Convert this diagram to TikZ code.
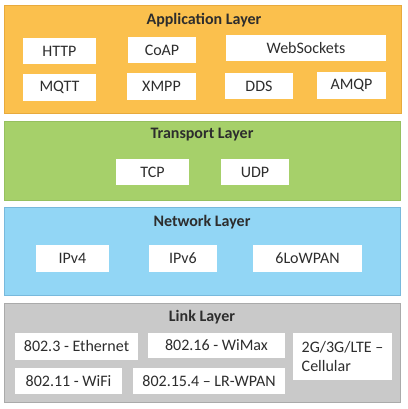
\documentclass[tikz,border=0pt]{standalone}
\usepackage{fontspec}
\setmainfont{Carlito}
\definecolor{appfill}{RGB}{251,192,77}
\definecolor{appdraw}{RGB}{232,170,60}
\definecolor{trfill}{RGB}{166,208,106}
\definecolor{trdraw}{RGB}{150,192,95}
\definecolor{netfill}{RGB}{146,214,245}
\definecolor{netdraw}{RGB}{120,185,220}
\definecolor{linkfill}{RGB}{201,201,201}
\definecolor{linkdraw}{RGB}{170,170,170}
\definecolor{txt}{RGB}{45,45,45}
\tikzset{
  layer/.style={draw, line width=0.8pt, rectangle, inner sep=0pt},
  title/.style={font=\fontsize{16}{19}\selectfont\bfseries, text=txt, inner sep=0pt},
  proto/.style={fill=white, draw=none, rectangle, inner sep=0pt, font=\fontsize{16}{19}\selectfont, text=txt, align=left}
}
\begin{document}
\begin{tikzpicture}[x=1pt,y=-1pt]
\useasboundingbox[fill=white] (0,0) rectangle (407,409);
% layers
\node[layer, fill=appfill, draw=appdraw, minimum width=397pt, minimum height=108pt] (app) at (202.5,59) {};
\node[layer, fill=trfill, draw=trdraw, minimum width=396pt, minimum height=79pt] (tr) at (202,160.5) {};
\node[layer, fill=netfill, draw=netdraw, minimum width=396pt, minimum height=88pt] (net) at (202,251) {};
\node[layer, fill=linkfill, draw=linkdraw, minimum width=396pt, minimum height=99pt] (link) at (202,352.5) {};
% titles
\node[title] (appt) at (204,20) {Application Layer};
\node[title] (trt) at (202,135) {Transport Layer};
\node[title] (nett) at (202,222) {Network Layer};
\node[title] (linkt) at (202,317) {Link Layer};
% application
\node[proto, minimum width=73pt, minimum height=26pt] (http) at (59.5,51) {HTTP};
\node[proto, minimum width=68pt, minimum height=26pt] (coap) at (162,50) {CoAP};
\node[proto, minimum width=160pt, minimum height=26pt] (ws) at (306,48) {WebSockets};
\node[proto, minimum width=73pt, minimum height=27pt] (mqtt) at (59.5,87.5) {MQTT};
\node[proto, minimum width=69pt, minimum height=27pt] (xmpp) at (161.5,86.5) {XMPP};
\node[proto, minimum width=68pt, minimum height=26pt] (dds) at (259,86) {DDS};
\node[proto, minimum width=69pt, minimum height=27pt] (amqp) at (351.5,85.5) {AMQP};
% transport
\node[proto, minimum width=73pt, minimum height=26pt] (tcp) at (152.5,172) {TCP};
\node[proto, minimum width=68pt, minimum height=26pt] (udp) at (255,172) {UDP};
% network
\node[proto, minimum width=73pt, minimum height=27pt] (ipv4) at (72.5,258.5) {IPv4};
\node[proto, minimum width=68pt, minimum height=27pt] (ipv6) at (183,258.5) {IPv6};
\node[proto, minimum width=109pt, minimum height=27pt] (lowpan) at (307.5,258.5) {6LoWPAN};
% link
\node[proto, minimum width=123pt, minimum height=27pt] (eth) at (76.5,346.5) {802.3 - Ethernet};
\node[proto, minimum width=137pt, minimum height=25pt] (wimax) at (216.5,345.5) {802.16 - WiMax};
\node[proto, minimum width=99pt, minimum height=47pt] (cell) at (342.5,356.5) {2G/3G/LTE --\\Cellular};
\node[proto, minimum width=107pt, minimum height=26pt] (wifi) at (68.5,381) {802.11 - WiFi};
\node[proto, minimum width=152pt, minimum height=26pt] (wpan) at (209,381) {802.15.4 -- LR-WPAN};
\end{tikzpicture}
\end{document}
